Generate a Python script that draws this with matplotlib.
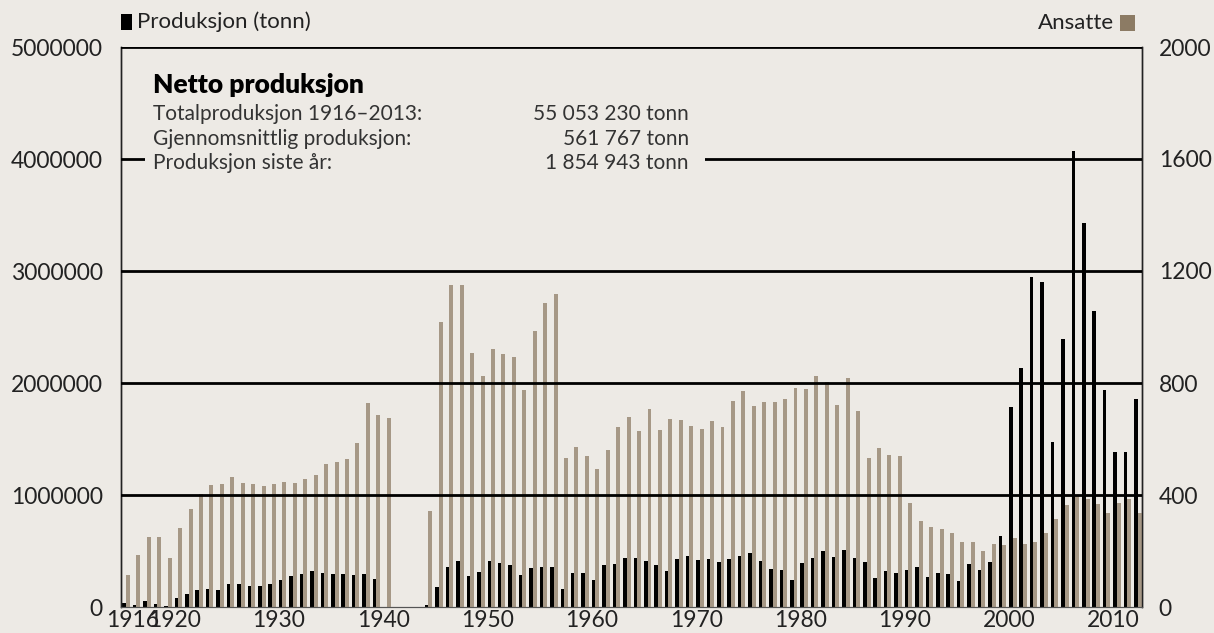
import numpy as np
import matplotlib.pyplot as plt
from matplotlib.patches import Rectangle

# Data, 1916-2013
years = np.arange(1916, 2014)

produksjon = [
    36000, 18000, 54000, 27000, 9000, 80000, 116000, 152000, 161000, 152000,      # 1916-1925
    205000, 205000, 187000, 187000, 205000, 241000, 277000, 295000, 321000, 304000,  # 1926-1935
    295000, 295000, 286000, 295000, 250000, 0, 0, 0, 0, 18000,                   # 1936-1945
    179000, 357000, 411000, 277000, 312000, 411000, 393000, 375000, 286000, 348000,  # 1946-1955
    357000, 357000, 161000, 304000, 304000, 241000, 375000, 384000, 437000, 437000,  # 1956-1965
    411000, 375000, 321000, 429000, 455000, 420000, 429000, 402000, 429000, 455000,  # 1966-1975
    482000, 411000, 339000, 330000, 241000, 393000, 437000, 500000, 446000, 509000,  # 1976-1985
    437000, 402000, 259000, 321000, 304000, 330000, 357000, 268000, 304000, 295000,  # 1986-1995
    232000, 384000, 330000, 402000, 634000, 1786000, 2134000, 2946000, 2902000, 1473000,  # 1996-2005
    2393000, 4071000, 3429000, 2643000, 1938000, 1384000, 1384000, 1855000,      # 2006-2013
]

ansatte = [
    114, 186, 250, 250, 175, 282, 350, 403, 436, 439,      # 1916-1925
    464, 443, 439, 432, 439, 446, 443, 457, 471, 510,      # 1926-1935
    518, 528, 585, 728, 685, 675, 0, 0, 0, 343,            # 1936-1945
    1018, 1150, 1150, 907, 825, 921, 904, 893, 775, 986,   # 1946-1955
    1086, 1118, 532, 571, 539, 493, 561, 643, 679, 629,    # 1956-1965
    707, 632, 671, 668, 646, 636, 664, 643, 736, 771,      # 1966-1975
    718, 732, 732, 743, 782, 779, 825, 804, 721, 818,      # 1976-1985
    700, 532, 568, 543, 539, 371, 307, 286, 279, 264,      # 1986-1995
    232, 232, 200, 225, 221, 246, 225, 232, 264, 314,      # 1996-2005
    364, 396, 386, 368, 336, 371, 386, 336,                # 2006-2013
]

tick_years = [1916, 1920, 1930, 1940, 1950, 1960, 1970, 1980, 1990, 2000, 2010]
left_ticks = [0, 1000000, 2000000, 3000000, 4000000, 5000000]
right_ticks = [0, 400, 800, 1200, 1600, 2000]

bg = '#edeae5'
tan = '#a69886'
tan_dark = '#8c7b64'
txt = '#222222'

plt.rcParams['font.family'] = ['Lato', 'DejaVu Sans']

fig = plt.figure(figsize=(12.14, 6.33), dpi=100, facecolor=bg)
ax = fig.add_axes([121 / 1214, 26 / 633, 1021 / 1214, 560 / 633])
ax.set_facecolor(bg)
ax2 = ax.twinx()

# black = produksjon, tan = ansatte
ax.bar(years, produksjon, width=-0.34, align='edge', color='black', zorder=2)
ax2.bar(years, ansatte, width=0.38, align='edge', color=tan, zorder=2)

ax.set_xlim(1915.52, 2013.41)
ax.set_ylim(0, 5000000)
ax2.set_ylim(0, 2000)

# gridlines on top of the bars
for v in right_ticks[1:]:
    ax2.axhline(v, color='black', linewidth=2, zorder=3)

ax.set_xticks([y + 0.67 for y in tick_years], [str(y) for y in tick_years])
ax.set_yticks(left_ticks, [str(v) for v in left_ticks])
ax2.set_yticks(right_ticks, [str(v) for v in right_ticks])
ax.tick_params(axis='both', length=0, labelsize=16.5, colors=txt, pad=2)
ax.tick_params(axis='y', pad=13)
ax2.tick_params(axis='y', length=0, labelsize=16.5, colors=txt, pad=12)

for a in (ax, ax2):
    a.spines['top'].set_visible(False)
    a.spines['left'].set_color(txt)
    a.spines['left'].set_linewidth(1)
    a.spines['right'].set_color(txt)
    a.spines['right'].set_linewidth(1)
    a.spines['bottom'].set_color('#555555')
    a.spines['bottom'].set_linewidth(0.8)

# summary box
ax2.add_patch(Rectangle((0.0235, 0.76), 0.548, 0.21, transform=ax2.transAxes,
                        facecolor=bg, edgecolor='none', zorder=4))
ax2.text(0.0313, 0.918, 'Netto produksjon', transform=ax2.transAxes, fontsize=19,
         fontweight='heavy', va='baseline', ha='left', zorder=5)
rows = [
    ('Totalproduksjon 1916\u20132013:', '55 053 230 tonn', 0.870),
    ('Gjennomsnittlig produksjon:', '561 767 tonn', 0.825),
    ('Produksjon siste år:', '1 854 943 tonn', 0.782),
]
for label, value, yy in rows:
    ax2.text(0.0313, yy, label, transform=ax2.transAxes, fontsize=15,
             va='baseline', ha='left', color='#333333', zorder=5)
    ax2.text(0.556, yy, value, transform=ax2.transAxes, fontsize=15,
             va='baseline', ha='right', color='#333333', zorder=5)

# legend
fig.add_artist(Rectangle((121 / 1214, 1 - 30 / 633), 11 / 1214, 16 / 633,
                         transform=fig.transFigure, facecolor='black', edgecolor='none'))
fig.text(137 / 1214, 1 - 22 / 633, 'Produksjon (tonn)', fontsize=16, va='center',
         ha='left', color=txt)
fig.add_artist(Rectangle((1120 / 1214, 1 - 31 / 633), 15 / 1214, 16 / 633,
                         transform=fig.transFigure, facecolor=tan_dark, edgecolor='none'))
fig.text(1114 / 1214, 1 - 23 / 633, 'Ansatte', fontsize=16, va='center',
         ha='right', color=txt)

fig.savefig('out.png', dpi=100, facecolor=bg)
